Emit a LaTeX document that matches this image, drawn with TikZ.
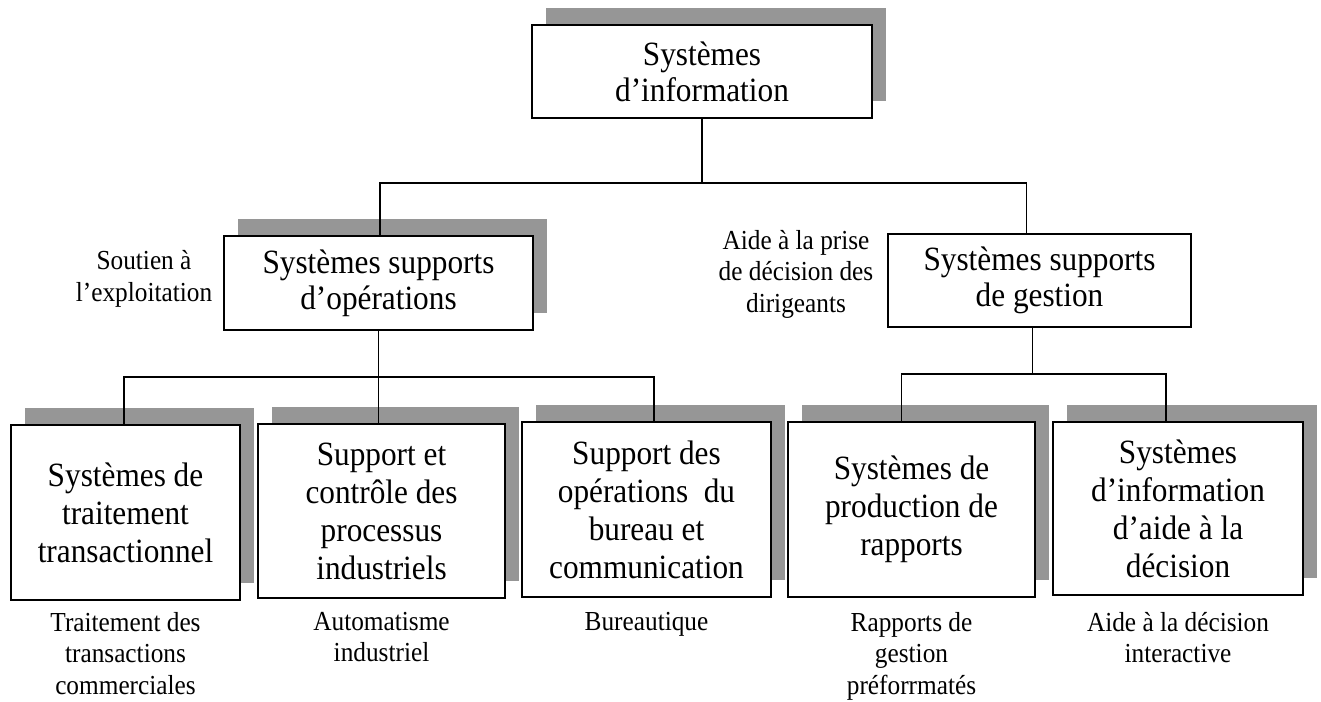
\documentclass[tikz,border=0pt]{standalone}
\usepackage{fontspec}
\setmainfont{Liberation Serif}
\newfontfamily\narrowserif[FakeStretch=0.92]{Liberation Serif}
\usetikzlibrary{shadows,calc}
\definecolor{shadowgray}{RGB}{150,150,150}
\tikzset{
  box/.style={draw=black, line width=1.8pt, fill=white, align=center, inner sep=0pt},
  bigtext/.style={font=\narrowserif\fontsize{34}{36}\selectfont},
  celltext/.style={font=\narrowserif\fontsize{34}{38}\selectfont},
  shade/.style={general shadow={fill=shadowgray, shadow xshift=14pt, shadow yshift=17pt}},
  conn/.style={line width=1.3pt},
  note/.style={align=center, inner sep=0pt, font=\narrowserif\fontsize{27.5}{31.5}\selectfont},
}
\begin{document}
\begin{tikzpicture}[x=1pt, y=-1pt]
\useasboundingbox (0,0) rectangle (1321,701);

% level 1
\node[box, shade, bigtext, minimum width=340pt, minimum height=93pt] (top) at (702,71.5)
  {Systèmes\\d’information};

% level 2
\node[box, shade, bigtext, minimum width=309pt, minimum height=94pt] (ops) at (378.5,283)
  {Systèmes supports\\d’opérations};
\node[box, bigtext, minimum width=303pt, minimum height=93pt] (gest) at (1039.5,280.5)
  {Systèmes supports\\de gestion};

\node[note, font=\narrowserif\fontsize{27.5}{32}\selectfont] (soutien) at (144,279) {Soutien à\\l’exploitation};
\node[note] (aide) at (796,274) {Aide à la prise\\de décision des\\dirigeants};

% level 3
\node[box, shade, celltext, minimum width=229pt, minimum height=175pt] (b1) at (125.5,512.5)
  {Systèmes de\\traitement\\transactionnel};
\node[box, shade, celltext, minimum width=247pt, minimum height=174pt] (b2) at (381.5,511)
  {Support et\\contrôle des\\processus\\industriels};
\node[box, shade, celltext, minimum width=249pt, minimum height=175pt] (b3) at (646.5,509.5)
  {Support des\\opérations~~du\\bureau et\\communication};
\node[box, shade, celltext, minimum width=247pt, minimum height=175pt] (b4) at (911.5,509.5)
  {Systèmes de\\production de\\rapports};
\node[box, shade, celltext, minimum width=250pt, minimum height=173pt] (b5) at (1178,508.5)
  {Systèmes\\d’information\\d’aide à la\\décision};

% captions under the boxes
\node[note, anchor=north] (c1) at (125.5,612) {Traitement des\\transactions\\commerciales};
\node[note, anchor=north] (c2) at (381.5,612) {Automatisme\\industriel};
\node[note, anchor=north] (c3) at (646.5,612) {Bureautique};
\node[note, anchor=north] (c4) at (911.5,612) {Rapports de\\gestion\\préforrmatés};
\node[note, anchor=north] (c5) at (1178,612) {Aide à la décision\\interactive};

% connectors, level 1 to level 2
\path (top.south) ++(0,64) coordinate (j1);
\draw[conn] (top.south) -- (j1);
\draw[conn] ([xshift=1.5pt]ops.north) |- (j1) -| ([xshift=-13pt]gest.north);

% connectors, operations branch
\path (ops.south) ++(0,46) coordinate (j2);
\draw[conn] (ops.south) -- (j2) -- (j2 |- b2.north);
\draw[conn] ([xshift=-1.5pt]b1.north) |- (j2) -| ([xshift=7.5pt]b3.north);

% connectors, management branch
\path ([xshift=-7pt]gest.south) ++(0,46) coordinate (j3);
\draw[conn] ([xshift=-7pt]gest.south) -- (j3);
\draw[conn] ([xshift=-10pt]b4.north) |- (j3) -| ([xshift=-12pt]b5.north);
\end{tikzpicture}
\end{document}
